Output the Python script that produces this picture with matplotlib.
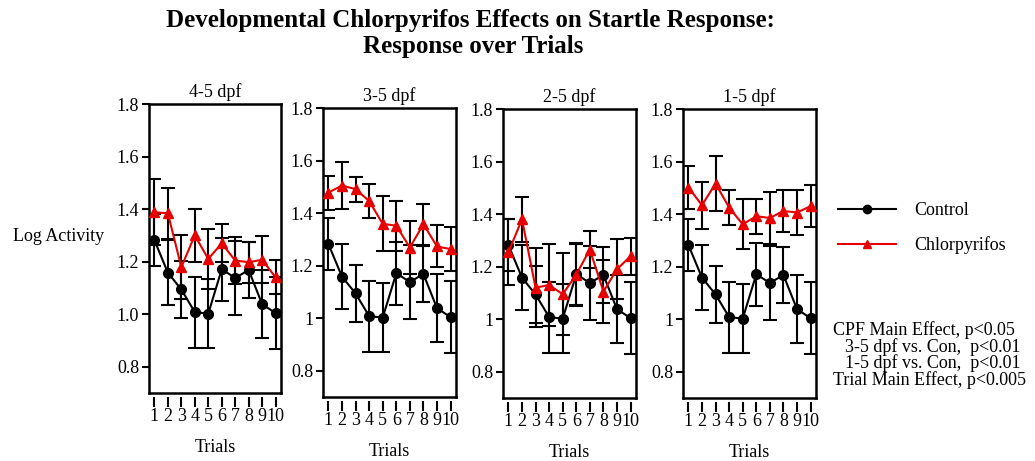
import matplotlib
matplotlib.use('Agg')
import matplotlib.pyplot as plt
from matplotlib.lines import Line2D
import numpy as np

plt.rcParams['font.family'] = ['Liberation Serif', 'DejaVu Serif']

# ---------------- data ----------------
trials = np.arange(1, 11)
panel_titles = ['4-5 dpf', '3-5 dpf', '2-5 dpf', '1-5 dpf']

control_mean = [1.282, 1.158, 1.094, 1.008, 1.002, 1.171, 1.138, 1.168, 1.038, 1.004]
control_se = [0.100, 0.124, 0.108, 0.135, 0.132, 0.120, 0.140, 0.105, 0.130, 0.138]

cpf_mean_45 = [1.388, 1.384, 1.179, 1.300, 1.210, 1.270, 1.204, 1.198, 1.207, 1.140]
cpf_se_45 = [0.125, 0.098, 0.122, 0.100, 0.115, 0.072, 0.088, 0.078, 0.090, 0.065]

cpf_mean_35 = [1.478, 1.505, 1.491, 1.446, 1.359, 1.352, 1.269, 1.358, 1.273, 1.263]
cpf_se_35 = [0.065, 0.088, 0.047, 0.066, 0.105, 0.095, 0.100, 0.078, 0.080, 0.085]

cpf_mean_25 = [1.255, 1.380, 1.120, 1.130, 1.095, 1.170, 1.265, 1.105, 1.190, 1.240]
cpf_se_25 = [0.125, 0.085, 0.150, 0.155, 0.155, 0.115, 0.070, 0.120, 0.115, 0.070]

cpf_mean_15 = [1.501, 1.434, 1.516, 1.425, 1.361, 1.392, 1.385, 1.412, 1.406, 1.430]
cpf_se_15 = [0.083, 0.090, 0.104, 0.066, 0.095, 0.067, 0.100, 0.080, 0.085, 0.080]

cpf_means = [cpf_mean_45, cpf_mean_35, cpf_mean_25, cpf_mean_15]
cpf_ses = [cpf_se_45, cpf_se_35, cpf_se_25, cpf_se_15]

yticks = [0.8, 1.0, 1.2, 1.4, 1.6, 1.8]
ytick_labels_first = ['0.8', '1.0', '1.2', '1.4', '1.6', '1.8']
ytick_labels_other = ['0.8', '1', '1.2', '1.4', '1.6', '1.8']

series_labels = ['Control', 'Chlorpyrifos']
stats_lines = ['CPF Main Effect, p<0.05',
               '3-5 dpf vs. Con,  p<0.01',
               '1-5 dpf vs. Con,  p<0.01',
               'Trial Main Effect, p<0.005']

# ---------------- layout ----------------
W, H = 1035, 461
RED = '#e60000'
FS = 13
fig = plt.figure(figsize=(W / 100, H / 100), dpi=100)

# (left, top, right, bottom) in pixels
boxes = [(149, 104, 281, 393), (323, 108, 456, 397),
         (503, 109, 636, 398), (683, 109, 816, 398)]

for i, (l, t, r, b) in enumerate(boxes):
    ax = fig.add_axes([l / W, 1 - b / H, (r - l) / W, (b - t) / H])
    ax.errorbar(trials, control_mean, yerr=control_se, color='black',
                ecolor='black', marker='o', ms=7, lw=1.5, elinewidth=1.5,
                capsize=5, capthick=1.5, zorder=3)
    ax.errorbar(trials, cpf_means[i], yerr=cpf_ses[i], color=RED,
                ecolor='black', marker='^', ms=7, lw=1.5, elinewidth=1.5,
                capsize=5, capthick=1.5, zorder=4)
    ax.set_xlim(0.6, 10.4)
    ax.set_ylim(0.7, 1.8)
    ax.set_yticks(yticks)
    ax.set_yticklabels(ytick_labels_first if i == 0 else ytick_labels_other)
    for s in ax.spines.values():
        s.set_linewidth(1.8)
    ax.tick_params(axis='y', direction='out', length=5, width=1.5,
                   labelsize=FS, pad=2)
    ax.tick_params(axis='x', bottom=False, labelbottom=False)
    sec = ax.secondary_xaxis(-0.014)
    sec.spines['bottom'].set_visible(False)
    sec.set_xticks(trials)
    sec.tick_params(direction='out', length=7, width=1.5, labelsize=FS, pad=1)
    ax.set_title(panel_titles[i], fontsize=FS, pad=5)
    ax.text(0.5, -0.19, 'Trials', transform=ax.transAxes, ha='center',
            va='center', fontsize=FS)

fig.text(59 / W, 1 - 236 / H, 'Log Activity', ha='center', va='center',
         fontsize=FS)

fig.text(470 / W, 1 - 21 / H, 'Developmental Chlorpyrifos Effects on Startle Response:',
         ha='center', va='center', fontsize=18, fontweight='bold')
fig.text(473 / W, 1 - 47 / H, 'Response over Trials',
         ha='center', va='center', fontsize=18, fontweight='bold')

handles = [Line2D([], [], color='black', marker='o', ms=6, lw=1.5),
           Line2D([], [], color=RED, marker='^', ms=6, lw=1.5)]
fig.legend(handles, series_labels, loc='upper left',
           bbox_to_anchor=(838 / W, 1 - 202 / H), frameon=False,
           fontsize=FS, handlelength=3.2, handletextpad=1.0,
           labelspacing=0.95, borderpad=0, borderaxespad=0)

xs = [833, 845, 845, 833]
ys = [330, 347, 363, 380]
for txt, x, y in zip(stats_lines, xs, ys):
    fig.text(x / W, 1 - y / H, txt, ha='left', va='center', fontsize=FS)

fig.savefig('out.png', dpi=100)
